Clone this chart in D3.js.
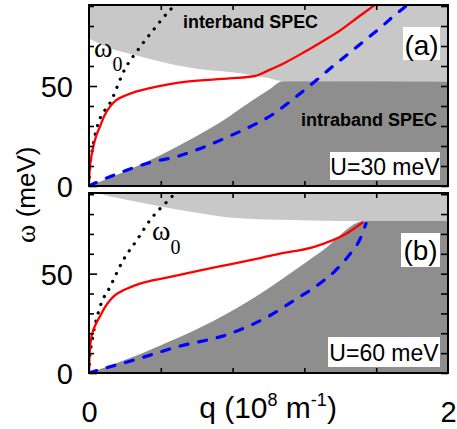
<!DOCTYPE html>
<html>
<head>
<meta charset="utf-8">
<script src="https://cdn.jsdelivr.net/npm/d3@7"></script>
<style>
  body { margin: 0; background: #fff; }
  text { font-family: Arial, "Liberation Sans", sans-serif; }
</style>
</head>
<body>
<svg id="chart" width="457" height="429"></svg>
<script>
// values, [q (1e8 1/m), omega (meV)]

// panel (a) U=30 meV
let interA = [[0, 73.8], [0.1, 69.5], [0.256, 65.5], [0.48, 60.5], [0.7, 57.6], [0.785, 57], [0.9, 55.5], [1.0, 54], [1.08, 52.4], [2, 52.2]];
let intraA = [[0, 0], [0.2, 7.2], [0.4, 15.5], [0.6, 25], [0.785, 35], [0.84, 38.5], [1.0, 48], [1.08, 52.4], [2, 52.2]];
let redA = [[0, 0], [0.003, 7], [0.01, 13], [0.024, 19.7], [0.04, 25], [0.061, 29.7], [0.085, 35], [0.117, 39.7], [0.15, 42.8], [0.21, 45.5],
  [0.358, 49.3], [0.544, 52.2], [0.785, 53.8], [0.925, 55], [1.0, 57.8], [1.1, 62], [1.2, 67], [1.3, 72.3], [1.4, 77.8],
  [1.5, 84.5], [1.6, 91]];
let blueA = [[0, 0], [0.047, 2], [0.154, 6], [0.33, 11.5], [0.5, 15], [0.656, 20], [0.76, 24], [0.934, 31.3], [1.018, 35.5], [1.11, 41.5],
  [1.194, 47.5], [1.268, 53], [1.367, 60.5], [1.45, 66.5], [1.519, 71.5], [1.63, 79.7], [1.705, 85.5], [1.78, 91]];
let w0A = [[0, 0], [0.004, 8], [0.015, 16], [0.043, 28.8], [0.126, 43], [0.2, 58.5], [0.266, 67.2], [0.358, 78], [0.46, 88.8], [0.49, 91.5]];

// panel (b) U=60 meV
let interB = [[0, 91.5], [0.2, 87.3], [0.4, 83.8], [0.6, 80.6], [0.78, 78.3], [1.0, 77.3], [1.25, 76.8], [1.536, 76.5], [2, 76.5]];
let intraB = [[0, 0], [0.2, 6.5], [0.4, 14], [0.6, 22], [0.785, 30.7], [0.93, 38.5], [1.064, 46.6], [1.3, 61.5], [1.536, 76.5], [2, 76.5]];
let redB = [[0, 0], [0.002, 7], [0.006, 13], [0.012, 17.5], [0.024, 21.5], [0.04, 25], [0.061, 28.5], [0.085, 32.5], [0.117, 36.6],
  [0.15, 39.5], [0.191, 41.6], [0.284, 45], [0.433, 48], [0.62, 51.7], [0.785, 54.7], [0.96, 58], [1.064, 60.1], [1.25, 63.4],
  [1.435, 70.2], [1.528, 76]];
let blueB = [[0, 0], [0.061, 1.7], [0.247, 6.4], [0.489, 13.1], [0.785, 19.8], [1.0, 28.5], [1.15, 37], [1.27, 44], [1.37, 51.3],
  [1.448, 59.2], [1.511, 67.6], [1.543, 75.2]];
let w0B = [[0, 0], [0.004, 8], [0.015, 15], [0.061, 33.2], [0.117, 43.3], [0.19, 56.7], [0.266, 66.8], [0.34, 76.9], [0.46, 88.6], [0.49, 91.5]];

// ticks
let yMajor = [0, 50],
  yMinor = [10, 20, 30, 40, 60, 70, 80, 90],
  qTicks = [0.4, 0.8, 1.2, 1.6],
  qLabels = [0, 2];

let svg = d3.select("#chart");

let left = 89, right = 448;
let x = d3.scaleLinear().domain([0, 2]).range([left, right]);

let panels = [
  { id: "a", top: 5, bottom: 186, wmax: 90.5, inter: interA, intra: intraA, red: redA, blue: blueA, w0: w0A },
  { id: "b", top: 193, bottom: 373, wmax: 90.6, inter: interB, intra: intraB, red: redB, blue: blueB, w0: w0B }
];

panels.forEach(function (p, i) {
  let y = d3.scaleLinear().domain([0, p.wmax]).range([p.bottom, p.top]);
  let g = svg.append("g");

  g.append("clipPath").attr("id", "clip" + p.id)
    .append("rect").attr("x", left).attr("y", p.top)
    .attr("width", right - left).attr("height", p.bottom - p.top);

  let plot = g.append("g").attr("clip-path", "url(#clip" + p.id + ")");

  plot.append("rect").attr("x", left).attr("y", p.top)
    .attr("width", right - left).attr("height", p.bottom - p.top)
    .attr("fill", "#fff");

  // interband SPEC (light) and intraband SPEC (dark)
  plot.append("path").datum(p.inter)
    .attr("fill", "#c8c8c8")
    .attr("d", d3.area().x(d => x(d[0])).y0(p.top - 2).y1(d => y(d[1])).curve(d3.curveMonotoneX));
  plot.append("path").datum(p.intra)
    .attr("fill", "#8e8e8e")
    .attr("d", d3.area().x(d => x(d[0])).y0(p.bottom + 2).y1(d => y(d[1])).curve(d3.curveMonotoneX));

  let line = d3.line().x(d => x(d[0])).y(d => y(d[1])).curve(d3.curveMonotoneX);

  plot.append("path").datum(p.w0)
    .attr("fill", "none").attr("stroke", "#000")
    .attr("stroke-width", 3.2).attr("stroke-linecap", "round")
    .attr("stroke-dasharray", "0.1 8.6")
    .attr("d", line);
  plot.append("path").datum(p.blue)
    .attr("fill", "none").attr("stroke", "#0000ff")
    .attr("stroke-width", 3.2).attr("stroke-linecap", "round")
    .attr("stroke-dasharray", "8 11")
    .attr("d", line);
  plot.append("path").datum(p.red)
    .attr("fill", "none").attr("stroke", "#ff0000")
    .attr("stroke-width", 2.3)
    .attr("d", line);

  // axes, ticks pointing inward
  g.append("g").attr("transform", "translate(" + left + ",0)")
    .call(d3.axisLeft(y).tickValues(yMajor).tickSizeInner(-8).tickSizeOuter(0).tickPadding(16))
    .call(a => a.selectAll("text").style("font-size", "29px").attr("fill", "#000").attr("dy", "0.36em"));
  g.append("g").attr("transform", "translate(" + left + ",0)")
    .call(d3.axisLeft(y).tickValues(yMinor).tickSizeInner(-5).tickSizeOuter(0).tickFormat(""));
  g.append("g").attr("transform", "translate(" + right + ",0)")
    .call(d3.axisRight(y).tickValues(yMajor.concat(yMinor)).tickSizeInner(-7).tickSizeOuter(0).tickFormat(""));
  g.append("g").attr("transform", "translate(0," + p.top + ")")
    .call(d3.axisTop(x).tickValues(qTicks).tickSizeInner(-5).tickSizeOuter(0).tickFormat(""));
  g.append("g").attr("transform", "translate(0," + p.bottom + ")")
    .call(d3.axisBottom(x).tickValues(qTicks).tickSizeInner(-5).tickSizeOuter(0).tickFormat(""));
  g.selectAll(".domain").remove();
  g.selectAll(".tick line").attr("stroke", "#000").attr("stroke-width", 1.6);

  if (i === 1) {
    g.append("g").attr("transform", "translate(0," + p.bottom + ")")
      .call(d3.axisBottom(x).tickValues(qLabels).tickFormat(d3.format("d")).tickSize(0).tickPadding(28))
      .call(a => a.select(".domain").remove())
      .call(a => a.selectAll("text").style("font-size", "29px").attr("fill", "#000"));
  }

  g.append("rect").attr("x", left).attr("y", p.top)
    .attr("width", right - left).attr("height", p.bottom - p.top)
    .attr("fill", "none").attr("stroke", "#000").attr("stroke-width", 2);
});

// annotations
svg.append("text").attr("x", 183).attr("y", 28)
  .attr("textLength", 135).attr("lengthAdjust", "spacingAndGlyphs")
  .style("font-size", "17.5px").style("font-weight", "bold").text("interband SPEC");
svg.append("text").attr("x", 301).attr("y", 125.5)
  .attr("textLength", 136).attr("lengthAdjust", "spacingAndGlyphs")
  .style("font-size", "17.5px").style("font-weight", "bold").text("intraband SPEC");

function box(x0, y0, w, h, txt, size, by) {
  svg.append("rect").attr("x", x0).attr("y", y0).attr("width", w).attr("height", h).attr("fill", "#fff");
  svg.append("text").attr("x", x0 + w / 2).attr("y", by).attr("text-anchor", "middle")
    .style("font-size", size + "px").text(txt);
}
box(403, 27, 37, 33, "(a)", 28, 55);
box(330, 152, 110, 28, "U=30 meV", 23, 175);
box(401, 233, 39, 34, "(b)", 28, 260);
box(328, 337, 112, 30, "U=60 meV", 23, 361);

function omega0(x0, y0) {
  let t = svg.append("text").attr("x", x0).attr("y", y0)
    .style("font-family", "'Liberation Serif', 'DejaVu Serif', serif").style("font-size", "28px");
  t.append("tspan").text("ω");
  t.append("tspan").attr("dy", 14).style("font-size", "20px").text("0");
}
omega0(94, 57);
omega0(152, 240);

// axis titles
let xt = svg.append("text").attr("x", 268).attr("y", 418).attr("text-anchor", "middle").style("font-size", "30px");
xt.append("tspan").text("q (10");
xt.append("tspan").attr("dy", -12).style("font-size", "18px").text("8");
xt.append("tspan").attr("dy", 12).text(" m");
xt.append("tspan").attr("dy", -12).style("font-size", "18px").text("-1");
xt.append("tspan").attr("dy", 12).text(")");

let yt = svg.append("text").attr("transform", "translate(35,243) rotate(-90)")
  .attr("text-anchor", "start").style("font-size", "26px");
yt.append("tspan").style("font-family", "'Liberation Serif', serif").style("font-size", "28px").text("ω");
yt.append("tspan").text(" (meV)");
</script>
</body>
</html>
